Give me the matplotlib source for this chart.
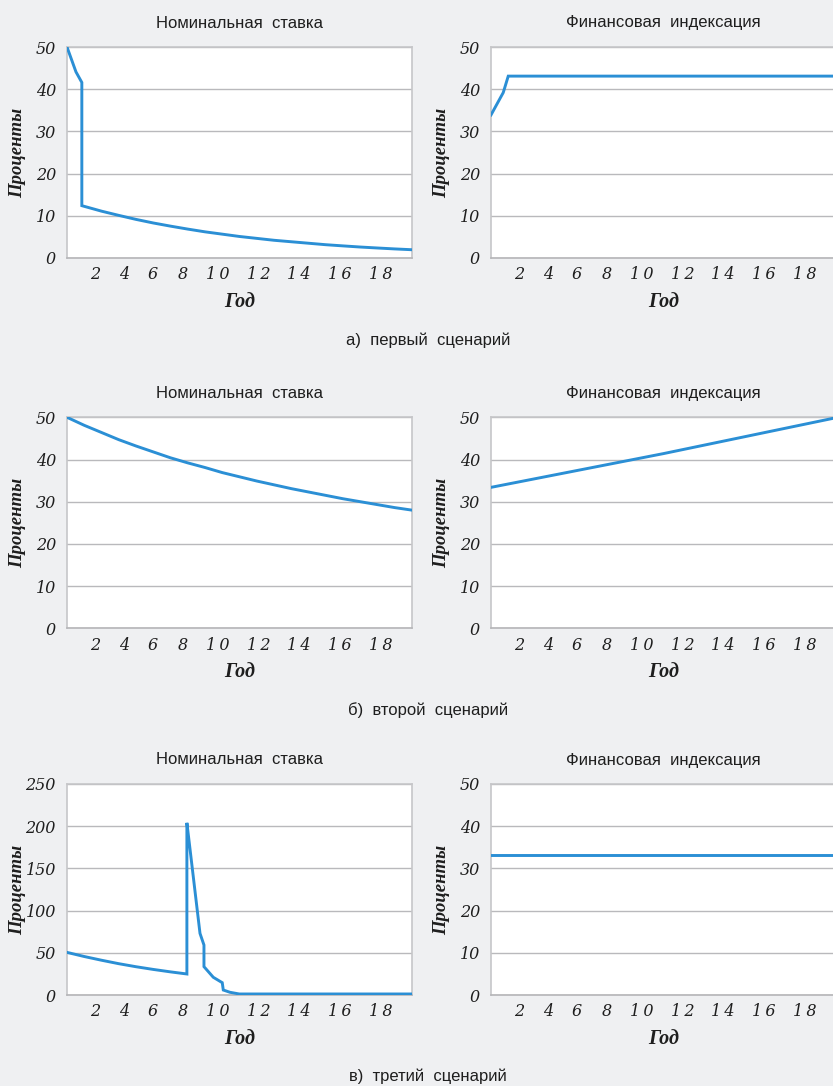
import numpy as np
import matplotlib
matplotlib.use("Agg")
from matplotlib import pyplot as plt

# --- data (years, percent) ---
# scenario a: nominal rate drops sharply after the first year
years_a_nom = [0, 0.52, 0.86, 0.86, 2, 3, 4, 5, 6, 7, 8, 9, 10, 11, 12, 13, 14, 15, 16, 17,
               18, 19, 20]
rate_a_nom = [50, 44.1, 41.6, 12.4, 11.1, 10.1, 9.15, 8.3, 7.55, 6.85, 6.2, 5.65, 5.1, 4.65,
              4.2, 3.85, 3.5, 3.15, 2.87, 2.6, 2.37, 2.15, 1.96]
years_a_idx = [0, 0.71, 1.0, 20]
rate_a_idx = [33.9, 39.2, 43.1, 43.1]

# scenario b: smooth curves
years_b = list(range(0, 21))
rate_b_nom = [50, 48.1, 46.4, 44.7, 43.2, 41.8, 40.4, 39.2, 38.1, 36.9, 35.9, 34.9, 34.0,
              33.1, 32.3, 31.5, 30.7, 30.0, 29.3, 28.6, 28.0]
years_b_idx = [0, 2, 4, 6, 8, 10, 12, 14, 16, 18, 20]
rate_b_idx = [33.4, 35.0, 36.6, 38.2, 39.8, 41.4, 43.1, 44.8, 46.5, 48.2, 49.9]

# scenario c: spike in the nominal rate, flat indexation
years_c_nom = [0, 1, 2, 3, 4, 5, 6, 6.95, 6.95, 7.09, 7.71, 7.94, 7.94, 8.48, 9.0, 9.06,
               9.45, 9.99, 20]
rate_c_nom = [50.5, 45.6, 41.2, 37.1, 33.5, 30.3, 27.4, 24.9, 204, 180, 73, 59.2, 33.6, 21,
              14.6, 5.9, 3.2, 1.2, 1.2]
years_c_idx = [0, 20]
rate_c_idx = [33.1, 33.1]

tick_pos = [1.64, 3.30, 4.97, 6.71, 8.75, 11.11, 13.46, 15.81, 18.2]
tick_lab = ["2", "4", "6", "8", "1\u20090", "1\u20092", "1\u20094", "1\u20096", "1\u20098"]

titles = ["Номинальная  ставка", "Финансовая  индексация"]
captions = ["а)  первый  сценарий", "б)  второй  сценарий", "в)  третий  сценарий"]

bg = "#eff0f2"
blue = "#2b8fd5"
ink = "#1e1e1e"
W, H = 833, 1086

fig = plt.figure(figsize=(W / 100, H / 100), dpi=100, facecolor=bg)

rows = [
    [(years_a_nom, rate_a_nom, 50, 10), (years_a_idx, rate_a_idx, 50, 10)],
    [(years_b, rate_b_nom, 50, 10), (years_b_idx, rate_b_idx, 50, 10)],
    [(years_c_nom, rate_c_nom, 250, 50), (years_c_idx, rate_c_idx, 50, 10)],
]
row_top = [47, 417.3, 784]  # pixel y of plot tops
plot_h = 211
lefts = [67, 491]
plot_w = 345
cap_y = [340, 710, 1076]

serif_it = dict(family="DejaVu Serif", style="italic")
label_font = dict(family="Liberation Serif", style="italic", weight="bold")

for r, row in enumerate(rows):
    for c, (xs, ys, ymax, ystep) in enumerate(row):
        ax = fig.add_axes([lefts[c] / W, 1 - (row_top[r] + plot_h) / H, plot_w / W, plot_h / H])
        ax.set_facecolor("white")
        ax.plot(xs, ys, color=blue, lw=2.1, solid_joinstyle="miter", zorder=3)
        ax.set_xlim(0, 20)
        ax.set_ylim(0, ymax)
        yt = np.arange(0, ymax + 1, ystep)
        ax.set_yticks(yt)
        ax.set_xticks(tick_pos)
        ax.set_xticklabels(tick_lab, fontsize=11.5, **serif_it, color=ink)
        ax.set_yticklabels([str(v) for v in yt], fontsize=11.5, **serif_it, color=ink)
        ax.tick_params(length=0, pad=6)
        ax.tick_params(axis="y", pad=8)
        ax.grid(axis="y", color="#b9b9bc", lw=1.0)
        ax.set_axisbelow(True)
        for s in ax.spines.values():
            s.set_color("#c6c6c9")
            s.set_linewidth(1.2)
        ax.spines["bottom"].set_color("#b5b5b8")
        ax.text(0.5, 1 + 24 / plot_h, titles[c], transform=ax.transAxes, ha="center",
                va="center", fontsize=12, family="Liberation Sans", color=ink)
        ax.text(0.5, -44 / plot_h, "Год", transform=ax.transAxes, ha="center",
                va="center", color=ink, fontsize=14.5, **label_font)
        ax.text(-49 / plot_w, 0.5, "Проценты", transform=ax.transAxes, ha="center",
                va="center", rotation=90, color=ink, fontsize=13.5, **label_font)
    fig.text(428 / W, 1 - cap_y[r] / H, captions[r], ha="center", va="center",
             fontsize=12, family="Liberation Sans", color=ink)

fig.savefig("out.png", dpi=100, facecolor=bg)
